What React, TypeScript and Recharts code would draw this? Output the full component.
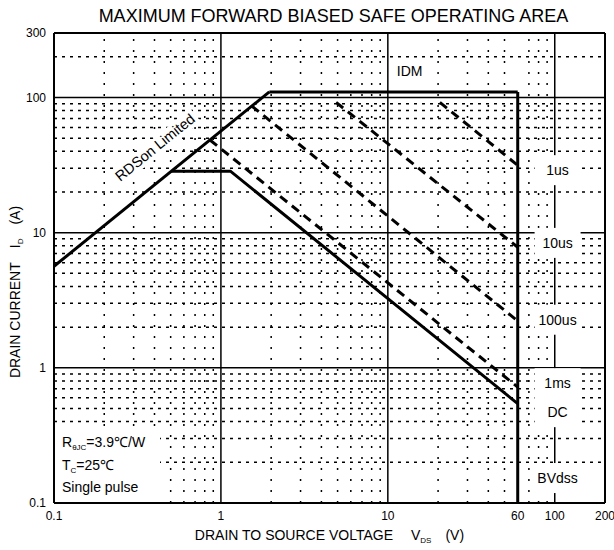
import React from 'react'
import { LineChart, Line, XAxis, YAxis, ReferenceLine, ReferenceDot } from 'recharts'

const FONT = '"Liberation Sans", Arial, Helvetica, sans-serif'

// axis ticks
const xTicks = [0.1, 1, 10, 60, 100, 200]
const yTicks = [0.1, 1, 10, 100, 300]

// grid lines
const xMajor = [1, 10, 100, 200]
const yMajor = [1, 10, 100, 300]
const xMinor = [0.2, 0.3, 0.4, 0.5, 0.6, 0.7, 0.8, 0.9, 2, 3, 4, 5, 6, 7, 8, 9, 20, 30, 40, 50, 70, 80, 90]
const yMinor = [0.2, 0.3, 0.4, 0.5, 0.6, 0.7, 0.8, 0.9, 2, 3, 4, 5, 6, 7, 8, 9, 20, 30, 40, 50, 60, 70, 80, 90, 200]

// SOA boundaries (VDS in V, ID in A)
const rdsonVds = [0.1, 1.95]
const rdsonId = [5.64, 110]
const idmVds = [1.95, 60]
const idmId = [110, 110]
const bvVds = [60, 60]
const bvId = [110, 0.1]
const dcVds = [0.505, 1.14, 60]
const dcId = [28.5, 28.5, 0.543]
const ms1Vds = [0.86, 60]
const ms1Id = [48.5, 0.72]
const us100Vds = [1.53, 60]
const us100Id = [86.5, 2.22]
const us10Vds = [4.9, 60]
const us10Id = [92, 7.8]
const us1Vds = [20.5, 60]
const us1Id = [92, 31.5]

// pulse labels on the right
const pulseLabels = ['1us', '10us', '100us', '1ms', 'DC', 'BVdss']
const pulseLabelX = 104
const pulseLabelY = [29, 8.4, 2.27, 0.77, 0.47, 0.153]

const pts = (xs: number[], ys: number[]) => xs.map((v, i) => ({ vds: v, id: ys[i] }))

const boxLabel = (text: string, w: number, h: number) => (props: any) => {
  const vb = props.viewBox || {}
  const cx = vb.x + (vb.width || 0) / 2
  const cy = vb.y + (vb.height || 0) / 2
  return (
    <g>
      <rect x={cx - w / 2} y={cy - h / 2} width={w} height={h} fill="#fff" />
      <text x={cx} y={cy + 5} textAnchor="middle" fontSize={14} fontFamily={FONT} fill="#000">
        {text}
      </text>
    </g>
  )
}

const notesLabel = (props: any) => {
  const vb = props.viewBox || {}
  const x0 = vb.x + (vb.width || 0) / 2
  const y0 = vb.y + (vb.height || 0) / 2
  return (
    <g fontFamily={FONT} fontSize={14} fill="#000">
      <rect x={x0 + 1} y={y0 - 75} width={105} height={74} fill="#fff" />
      <text x={x0 + 8} y={y0 - 56}>
        R<tspan fontSize={8} dy={3}>θJC</tspan>
        <tspan dy={-3}>=3.9℃/W</tspan>
      </text>
      <text x={x0 + 8} y={y0 - 33}>
        T<tspan fontSize={8} dy={3}>C</tspan>
        <tspan dy={-3}>=25℃</tspan>
      </text>
      <text x={x0 + 8} y={y0 - 11}>Single pulse</text>
    </g>
  )
}

const rdsonLabel = (props: any) => {
  const vb = props.viewBox || {}
  const cx = vb.x + (vb.width || 0) / 2
  const cy = vb.y + (vb.height || 0) / 2
  return (
    <g transform={`rotate(-39 ${cx} ${cy})`}>
      <rect x={cx - 52} y={cy - 13} width={104} height={17} fill="#fff" />
      <text x={cx} y={cy} textAnchor="middle" fontSize={14.5} fontFamily={FONT} fill="#000">
        RDSon Limited
      </text>
    </g>
  )
}

const idmLabel = (props: any) => {
  const vb = props.viewBox || {}
  const cx = vb.x + (vb.width || 0) / 2
  const cy = vb.y + (vb.height || 0) / 2
  return (
    <text x={cx} y={cy + 5} textAnchor="middle" fontSize={14} fontFamily={FONT} fill="#000">IDM</text>
  )
}

const xAxisLabel = (props: any) => {
  const vb = props.viewBox || {}
  const cx = vb.x + vb.width / 2
  return (
    <text x={cx} y={vb.y + 37} textAnchor="middle" fontSize={14} fontFamily={FONT} fill="#000">
      DRAIN TO SOURCE VOLTAGE
      <tspan dx={18}>V</tspan>
      <tspan fontSize={8} dy={3}>DS</tspan>
      <tspan dx={14} dy={-3}>(V)</tspan>
    </text>
  )
}

const yAxisLabel = (props: any) => {
  const vb = props.viewBox || {}
  const x = vb.x + 20
  const y = vb.y + 259
  return (
    <text x={x} y={y} textAnchor="middle" fontSize={14} fontFamily={FONT} fill="#000"
      transform={`rotate(-90 ${x} ${y})`}>
      DRAIN CURRENT
      <tspan dx={14}>I</tspan>
      <tspan fontSize={8} dy={3}>D</tspan>
      <tspan dx={14} dy={-3}>(A)</tspan>
    </text>
  )
}

export default function App() {
  const solid = { stroke: '#000', strokeWidth: 3, dot: false, isAnimationActive: false, type: 'linear' as const }
  const dashed = { ...solid, strokeDasharray: '9 6' }

  return (
    <div style={{ position: 'relative', width: 614, height: 550, fontFamily: FONT }}>
      <style>{'body{margin:0}'}</style>
      <div style={{
        position: 'absolute', top: 6, left: 0, width: 667, textAlign: 'center',
        fontSize: 18, lineHeight: '20px', color: '#000'
      }}>
        MAXIMUM FORWARD BIASED SAFE OPERATING AREA
      </div>
      <LineChart width={614} height={550} margin={{ top: 33, right: 9, left: 0, bottom: 0 }}>
        <XAxis
          type="number" dataKey="vds" scale="log" domain={[0.1, 200]} ticks={xTicks}
          interval={0} allowDataOverflow tickLine={false} height={47}
          axisLine={{ stroke: '#000', strokeWidth: 2 }}
          tick={{ fill: '#000', fontSize: 12, fontFamily: FONT }}
          label={xAxisLabel}
        />
        <YAxis
          type="number" dataKey="id" scale="log" domain={[0.1, 300]} ticks={yTicks}
          interval={0} allowDataOverflow tickLine={false} width={54}
          axisLine={{ stroke: '#000', strokeWidth: 2 }}
          tick={{ fill: '#000', fontSize: 12, fontFamily: FONT }}
          label={yAxisLabel}
        />

        {xMinor.map(v => (
          <ReferenceLine key={'xm' + v} x={v} stroke="#000" strokeWidth={1.5} strokeDasharray="2 9" />
        ))}
        {yMinor.map(v => (
          <ReferenceLine key={'ym' + v} y={v} stroke="#000" strokeWidth={1.5} strokeDasharray="3 5" />
        ))}
        {xMajor.map(v => (
          <ReferenceLine key={'xM' + v} x={v} stroke="#000" strokeWidth={v === 200 ? 2 : 1.5} />
        ))}
        {yMajor.map(v => (
          <ReferenceLine key={'yM' + v} y={v} stroke="#000" strokeWidth={v === 300 ? 2 : 1.5} />
        ))}

        <Line data={pts(rdsonVds, rdsonId)} dataKey="id" {...solid} />
        <Line data={pts(idmVds, idmId)} dataKey="id" {...solid} />
        <Line data={pts(bvVds, bvId)} dataKey="id" {...solid} />
        <Line data={pts(dcVds, dcId)} dataKey="id" {...solid} />
        <Line data={pts(ms1Vds, ms1Id)} dataKey="id" {...dashed} />
        <Line data={pts(us100Vds, us100Id)} dataKey="id" {...dashed} />
        <Line data={pts(us10Vds, us10Id)} dataKey="id" {...dashed} />
        <Line data={pts(us1Vds, us1Id)} dataKey="id" {...dashed} />

        {pulseLabels.map((t, i) => (
          <ReferenceDot key={t} x={pulseLabelX} y={pulseLabelY[i]} r={0} fill="none" stroke="none"
            label={boxLabel(t, 46, 30)} />
        ))}
        <ReferenceDot x={13.5} y={156} r={0} fill="none" stroke="none" label={idmLabel} />
        <ReferenceDot x={0.42} y={40} r={0} fill="none" stroke="none" label={rdsonLabel} />
        <ReferenceDot x={0.1} y={0.1} r={0} fill="none" stroke="none" label={notesLabel} />
      </LineChart>
    </div>
  )
}
